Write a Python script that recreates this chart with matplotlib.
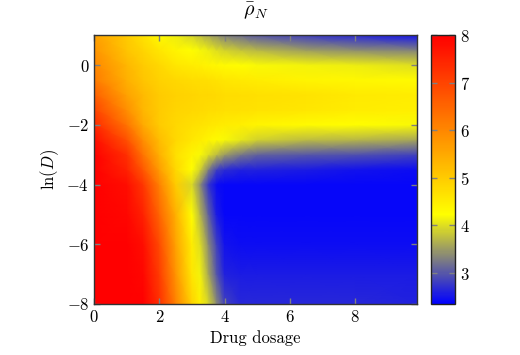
import numpy as np
import matplotlib
matplotlib.use("Agg")
import matplotlib.pyplot as plt
from matplotlib.colors import LinearSegmentedColormap

plt.rcParams['font.family'] = 'serif'
plt.rcParams['font.serif'] = ['cmr10']
plt.rcParams['mathtext.fontset'] = 'cm'
plt.rcParams['axes.formatter.use_mathtext'] = True
plt.rcParams['font.size'] = 12

# grid
dosage = [0, 1, 1.5, 2, 2.5, 3, 3.25, 3.5, 3.75, 4, 4.5, 5, 6.5, 8, 9.9]
ln_d = [-8, -7, -6, -5, -4, -3.5, -3, -2.5, -2, -1.5, -1, -0.5, 0, 0.5, 1]

# rho_N, one row per ln(D) value (bottom to top)
rho = [
    [8.0, 8.0, 8.0, 7.3, 6.1, 4.9, 4.45, 3.95, 3.4, 2.85, 2.65, 2.65, 2.65, 2.65, 2.6],
    [8.0, 8.0, 7.9, 7.1, 5.8, 4.6, 4.15, 3.6, 3.0, 2.6, 2.55, 2.55, 2.55, 2.55, 2.55],
    [8.0, 8.0, 7.8, 6.9, 5.6, 4.5, 4.0, 3.4, 2.85, 2.5, 2.45, 2.45, 2.45, 2.45, 2.45],
    [8.0, 7.9, 7.5, 6.5, 5.4, 4.25, 3.7, 3.1, 2.55, 2.4, 2.4, 2.4, 2.4, 2.4, 2.4],
    [8.0, 7.8, 7.2, 6.1, 5.0, 3.95, 3.4, 2.75, 2.45, 2.4, 2.4, 2.4, 2.4, 2.4, 2.4],
    [8.0, 7.5, 6.7, 5.7, 4.8, 4.25, 3.9, 3.3, 2.85, 2.7, 2.6, 2.6, 2.55, 2.5, 2.45],
    [8.0, 7.3, 6.3, 5.4, 4.7, 4.4, 4.2, 4.0, 3.75, 3.5, 3.25, 3.1, 3.0, 2.95, 2.85],
    [7.8, 6.8, 5.9, 5.2, 4.8, 4.6, 4.5, 4.4, 4.3, 4.2, 4.05, 3.9, 3.75, 3.7, 3.6],
    [7.4, 6.3, 5.5, 5.0, 4.8, 4.7, 4.65, 4.6, 4.55, 4.5, 4.45, 4.4, 4.3, 4.25, 4.2],
    [7.0, 5.9, 5.3, 5.0, 4.85, 4.8, 4.78, 4.75, 4.72, 4.7, 4.68, 4.65, 4.6, 4.5, 4.45],
    [6.6, 5.6, 5.25, 5.0, 4.9, 4.85, 4.82, 4.8, 4.78, 4.75, 4.72, 4.7, 4.65, 4.55, 4.5],
    [6.2, 5.4, 5.1, 4.9, 4.8, 4.75, 4.72, 4.7, 4.65, 4.6, 4.55, 4.5, 4.4, 4.35, 4.3],
    [6.0, 5.3, 5.0, 4.8, 4.6, 4.5, 4.45, 4.4, 4.35, 4.3, 4.25, 4.2, 4.15, 4.1, 4.0],
    [5.8, 5.1, 4.85, 4.6, 4.4, 4.25, 4.18, 4.1, 4.0, 3.9, 3.8, 3.7, 3.5, 3.4, 3.3],
    [5.6, 5.0, 4.65, 4.3, 4.1, 3.9, 3.75, 3.6, 3.45, 3.3, 3.15, 3.0, 2.8, 2.65, 2.5],
]

vmin, vmax = 2.35, 8.0

# pgfplots "hot" colormap
hot = LinearSegmentedColormap.from_list(
    'pgfhot', [(0, 0, 1), (1, 1, 0), (1, 0.5, 0), (1, 0, 0)])

fig = plt.figure(figsize=(5.2, 3.55), dpi=100)
ax = fig.add_axes([0.181, 0.1437, 0.621, 0.7573])
cax = fig.add_axes([0.829, 0.1437, 0.046, 0.7573])

X, Y = np.meshgrid(dosage, ln_d)
mesh = ax.pcolormesh(X, Y, np.array(rho), cmap=hot, vmin=vmin, vmax=vmax,
                     shading='gouraud', rasterized=True)

ax.set_xlim(0, 9.9)
ax.set_ylim(-8, 1)
ax.set_xticks([0, 2, 4, 6, 8])
ax.set_yticks([-8, -6, -4, -2, 0])
ax.tick_params(direction='in', top=True, right=True, length=4,
               color='#808080', width=1)
ax.set_xlabel('Drug dosage')
ax.set_ylabel(r'$\ln(D)$')
ax.set_title(r'$\bar{\rho}_N$', pad=14)
for s in ax.spines.values():
    s.set_linewidth(1)
    s.set_color('#333333')

cb = fig.colorbar(mesh, cax=cax)
cb.set_ticks([3, 4, 5, 6, 7, 8])
cax.tick_params(direction='in', left=True, right=True, length=4,
                color='#808080', width=1)
cb.outline.set_linewidth(1)
cb.outline.set_edgecolor('#222222')

fig.savefig('out.png', dpi=100)
